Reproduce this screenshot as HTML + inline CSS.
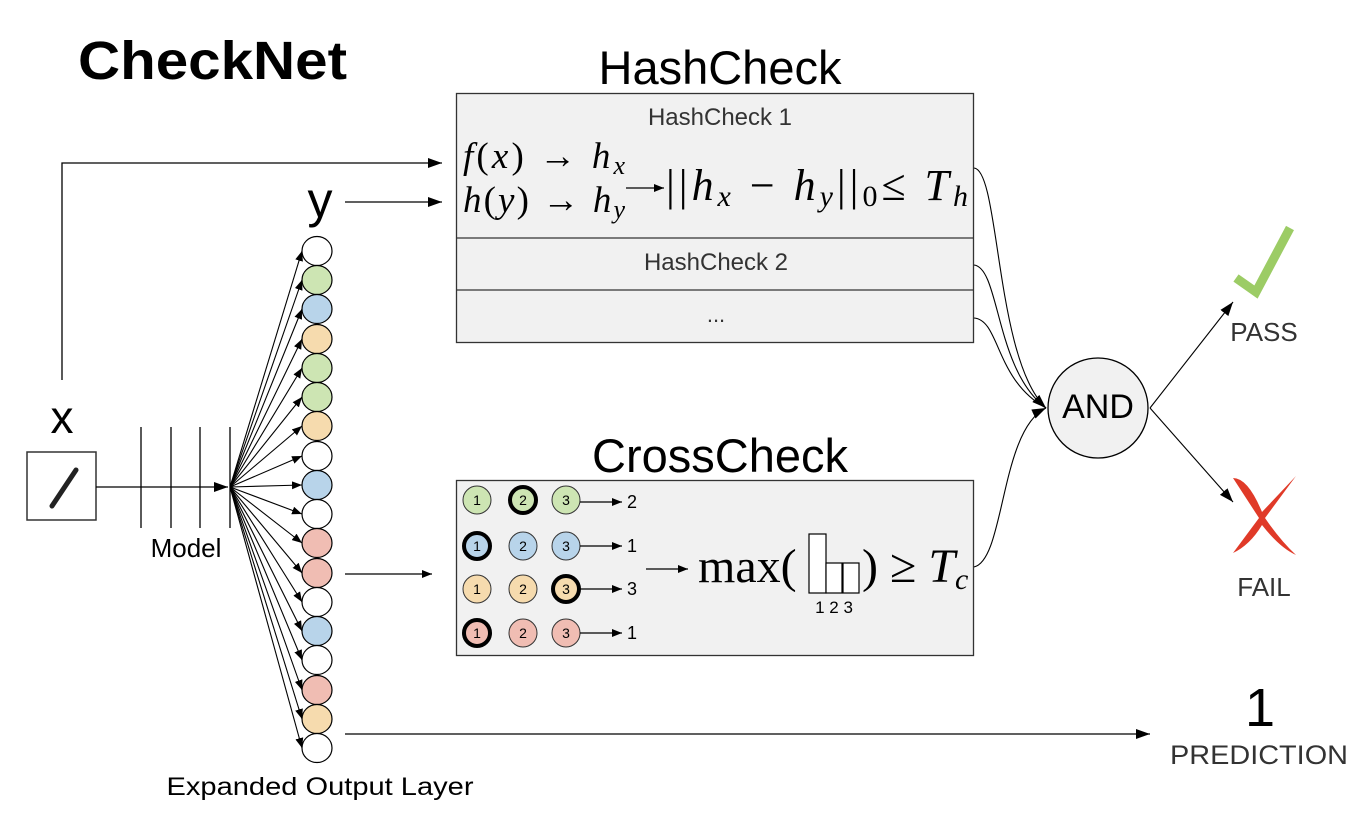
<!DOCTYPE html>
<html><head><meta charset="utf-8"><style>
body{margin:0;background:#fff;}
svg{display:block;}
.s{font-family:"Liberation Sans",sans-serif;}
.m{font-family:"Liberation Serif",serif;}
</style></head><body>
<svg width="1368" height="816" viewBox="0 0 1368 816" xmlns="http://www.w3.org/2000/svg">
<defs>
<marker id="a" markerWidth="10" markerHeight="8" refX="10" refY="4" orient="auto" markerUnits="userSpaceOnUse">
<path d="M0,0 L10,4 L0,8 z" fill="#000"/></marker>
<marker id="b" markerWidth="14" markerHeight="10" refX="14" refY="5" orient="auto" markerUnits="userSpaceOnUse">
<path d="M0,0 L14,5 L0,10 z" fill="#000"/></marker>
</defs>
<text x="78" y="79" class="s" font-size="54" font-weight="bold" textLength="269" lengthAdjust="spacingAndGlyphs">CheckNet</text>
<text x="720" y="84" class="s" font-size="47" text-anchor="middle">HashCheck</text>
<text x="720" y="472" class="s" font-size="47" text-anchor="middle">CrossCheck</text>

<!-- x input -->
<polyline points="62,380 62,163 442,163" fill="none" stroke="#000" stroke-width="1.3" marker-end="url(#b)"/>
<text x="62" y="433" class="s" font-size="46" text-anchor="middle">x</text>
<rect x="27" y="452" width="69" height="68" fill="#fff" stroke="#333" stroke-width="1.5"/>
<line x1="52" y1="506" x2="76" y2="470" stroke="#222" stroke-width="5" stroke-linecap="round"/>
<line x1="96" y1="487" x2="228" y2="487" stroke="#000" stroke-width="1.3" marker-end="url(#b)"/>
<g stroke="#000" stroke-width="1.3">
<line x1="141" y1="427" x2="141" y2="528"/><line x1="171" y1="427" x2="171" y2="528"/>
<line x1="200" y1="427" x2="200" y2="528"/><line x1="230" y1="427" x2="230" y2="528"/>
</g>
<text x="186" y="557" class="s" font-size="26" text-anchor="middle">Model</text>

<!-- y -->
<text x="320" y="217" class="s" font-size="50" text-anchor="middle">y</text>
<line x1="345" y1="202" x2="442" y2="202" stroke="#000" stroke-width="1.3" marker-end="url(#b)"/>

<!-- fan + circles -->
<g stroke="#000" stroke-width="1.1" fill="none">
<line x1="230" y1="487" x2="302" y2="251" marker-end="url(#a)"/>
<line x1="230" y1="487" x2="302" y2="280" marker-end="url(#a)"/>
<line x1="230" y1="487" x2="302" y2="309" marker-end="url(#a)"/>
<line x1="230" y1="487" x2="302" y2="339" marker-end="url(#a)"/>
<line x1="230" y1="487" x2="302" y2="368" marker-end="url(#a)"/>
<line x1="230" y1="487" x2="302" y2="397" marker-end="url(#a)"/>
<line x1="230" y1="487" x2="302" y2="426" marker-end="url(#a)"/>
<line x1="230" y1="487" x2="302" y2="456" marker-end="url(#a)"/>
<line x1="230" y1="487" x2="302" y2="485" marker-end="url(#a)"/>
<line x1="230" y1="487" x2="302" y2="514" marker-end="url(#a)"/>
<line x1="230" y1="487" x2="302" y2="543" marker-end="url(#a)"/>
<line x1="230" y1="487" x2="302" y2="573" marker-end="url(#a)"/>
<line x1="230" y1="487" x2="302" y2="602" marker-end="url(#a)"/>
<line x1="230" y1="487" x2="302" y2="631" marker-end="url(#a)"/>
<line x1="230" y1="487" x2="302" y2="660" marker-end="url(#a)"/>
<line x1="230" y1="487" x2="302" y2="690" marker-end="url(#a)"/>
<line x1="230" y1="487" x2="302" y2="719" marker-end="url(#a)"/>
<line x1="230" y1="487" x2="302" y2="748" marker-end="url(#a)"/>
</g>
<g stroke="#000" stroke-width="1.2">
<ellipse cx="317" cy="251" rx="15" ry="14.5" fill="#fff"/>
<ellipse cx="317" cy="280" rx="15" ry="14.5" fill="#cde5b3"/>
<ellipse cx="317" cy="309" rx="15" ry="14.5" fill="#b8d4ea"/>
<ellipse cx="317" cy="339" rx="15" ry="14.5" fill="#f6dbae"/>
<ellipse cx="317" cy="368" rx="15" ry="14.5" fill="#cde5b3"/>
<ellipse cx="317" cy="397" rx="15" ry="14.5" fill="#cde5b3"/>
<ellipse cx="317" cy="426" rx="15" ry="14.5" fill="#f6dbae"/>
<ellipse cx="317" cy="456" rx="15" ry="14.5" fill="#fff"/>
<ellipse cx="317" cy="485" rx="15" ry="14.5" fill="#b8d4ea"/>
<ellipse cx="317" cy="514" rx="15" ry="14.5" fill="#fff"/>
<ellipse cx="317" cy="543" rx="15" ry="14.5" fill="#f0bdb3"/>
<ellipse cx="317" cy="573" rx="15" ry="14.5" fill="#f0bdb3"/>
<ellipse cx="317" cy="602" rx="15" ry="14.5" fill="#fff"/>
<ellipse cx="317" cy="631" rx="15" ry="14.5" fill="#b8d4ea"/>
<ellipse cx="317" cy="660" rx="15" ry="14.5" fill="#fff"/>
<ellipse cx="317" cy="690" rx="15" ry="14.5" fill="#f0bdb3"/>
<ellipse cx="317" cy="719" rx="15" ry="14.5" fill="#f6dbae"/>
<ellipse cx="317" cy="748" rx="15" ry="14.5" fill="#fff"/>
</g>
<text x="320" y="795" class="s" font-size="25" text-anchor="middle" textLength="307" lengthAdjust="spacingAndGlyphs">Expanded Output Layer</text>
<line x1="345" y1="574" x2="432" y2="574" stroke="#000" stroke-width="1.3" marker-end="url(#a)"/>
<line x1="345" y1="734" x2="1150" y2="734" stroke="#000" stroke-width="1.3" marker-end="url(#b)"/>
<text x="1260" y="726" class="s" font-size="54" text-anchor="middle">1</text>
<text x="1259" y="764" class="s" font-size="27" fill="#333" text-anchor="middle" textLength="178" lengthAdjust="spacingAndGlyphs">PREDICTION</text>

<!-- HashCheck box -->
<rect x="456.5" y="93.5" width="517" height="249" fill="#f1f1f1" stroke="#333" stroke-width="1.3"/>
<line x1="456" y1="238" x2="974" y2="238" stroke="#333" stroke-width="1.3"/>
<line x1="456" y1="290" x2="974" y2="290" stroke="#333" stroke-width="1.3"/>
<text x="720" y="125" class="s" font-size="24" fill="#333" text-anchor="middle">HashCheck 1</text>
<text x="716" y="270" class="s" font-size="24" fill="#333" text-anchor="middle">HashCheck 2</text>
<text x="716" y="322" class="s" font-size="22" fill="#333" text-anchor="middle">...</text>
<text x="463" y="168" class="m" font-size="37" textLength="162" lengthAdjust="spacing"><tspan font-style="italic">f</tspan>(<tspan font-style="italic">x</tspan>) → <tspan font-style="italic">h</tspan><tspan font-style="italic" font-size="26" dy="6">x</tspan></text>
<text x="463" y="212" class="m" font-size="37" textLength="162" lengthAdjust="spacing"><tspan font-style="italic">h</tspan>(<tspan font-style="italic">y</tspan>) → <tspan font-style="italic">h</tspan><tspan font-style="italic" font-size="26" dy="6">y</tspan></text>
<line x1="626" y1="188" x2="664" y2="188" stroke="#000" stroke-width="1.3" marker-end="url(#a)"/>
<text x="666" y="200" class="m" font-size="44" textLength="302" lengthAdjust="spacing">||<tspan font-style="italic">h</tspan><tspan font-style="italic" font-size="30" dy="6">x</tspan><tspan dy="-6"> − </tspan><tspan font-style="italic">h</tspan><tspan font-style="italic" font-size="30" dy="6">y</tspan><tspan dy="-6">||</tspan><tspan font-size="30" dy="6">0</tspan><tspan dy="-6">≤ </tspan><tspan font-style="italic">T</tspan><tspan font-style="italic" font-size="30" dy="6">h</tspan></text>

<!-- CrossCheck box -->
<rect x="456.5" y="480.5" width="517" height="175" fill="#f1f1f1" stroke="#333" stroke-width="1.3"/>
<g class="s" font-size="14" text-anchor="middle">
<g stroke="#333" stroke-width="1">
<circle cx="477" cy="500" r="14" fill="#cde5b3"/><circle cx="523" cy="500" r="13" fill="#cde5b3" stroke="#000" stroke-width="4"/><circle cx="566" cy="500" r="14" fill="#cde5b3"/>
<circle cx="477" cy="546" r="13" fill="#b8d4ea" stroke="#000" stroke-width="4"/><circle cx="523" cy="546" r="14" fill="#b8d4ea"/><circle cx="566" cy="546" r="14" fill="#b8d4ea"/>
<circle cx="477" cy="589" r="14" fill="#f6dbae"/><circle cx="523" cy="589" r="14" fill="#f6dbae"/><circle cx="566" cy="589" r="13" fill="#f6dbae" stroke="#000" stroke-width="4"/>
<circle cx="477" cy="633" r="13" fill="#f0bdb3" stroke="#000" stroke-width="4"/><circle cx="523" cy="633" r="14" fill="#f0bdb3"/><circle cx="566" cy="633" r="14" fill="#f0bdb3"/>
</g>
<text x="477" y="505">1</text><text x="523" y="505">2</text><text x="566" y="505">3</text>
<text x="477" y="551">1</text><text x="523" y="551">2</text><text x="566" y="551">3</text>
<text x="477" y="594">1</text><text x="523" y="594">2</text><text x="566" y="594">3</text>
<text x="477" y="638">1</text><text x="523" y="638">2</text><text x="566" y="638">3</text>
</g>
<g stroke="#000" stroke-width="1.2">
<line x1="580" y1="502" x2="622" y2="502" marker-end="url(#a)"/>
<line x1="580" y1="546" x2="622" y2="546" marker-end="url(#a)"/>
<line x1="580" y1="589" x2="622" y2="589" marker-end="url(#a)"/>
<line x1="580" y1="633" x2="622" y2="633" marker-end="url(#a)"/>
<line x1="646" y1="569" x2="688" y2="569" marker-end="url(#a)"/>
</g>
<g class="s" font-size="18"><text x="627" y="508">2</text><text x="627" y="552">1</text><text x="627" y="595">3</text><text x="627" y="639">1</text></g>
<text x="698" y="582" class="m" font-size="48">max(</text>
<g fill="#fff" stroke="#000" stroke-width="1.2">
<rect x="809" y="534" width="17" height="59"/><rect x="826" y="563" width="16" height="30"/><rect x="843" y="563" width="16" height="30"/>
</g>
<text x="834" y="613" class="s" font-size="17" text-anchor="middle">1 2 3</text>
<text x="862" y="582" class="m" font-size="48">) ≥ <tspan font-style="italic">T</tspan><tspan font-style="italic" font-size="30" dy="7">c</tspan></text>

<!-- to AND -->
<g fill="none" stroke="#000" stroke-width="1.1">
<path d="M974,168 C1000,170 995,360 1046,408" marker-end="url(#b)"/>
<path d="M974,265 C1000,268 995,370 1046,408"/>
<path d="M974,318 C1000,320 995,380 1046,408"/>
<path d="M974,567 C1005,560 1000,430 1046,408" marker-end="url(#b)"/>
<line x1="1150" y1="408" x2="1233" y2="302" marker-end="url(#b)"/>
<line x1="1150" y1="408" x2="1233" y2="502" marker-end="url(#b)"/>
</g>
<circle cx="1098" cy="408" r="50" fill="#f1f1f1" stroke="#000" stroke-width="1.3"/>
<text x="1098" y="418" class="s" font-size="34" text-anchor="middle">AND</text>
<polyline points="1236,278 1256,292 1290,228" fill="none" stroke="#9ccc65" stroke-width="9"/>
<text x="1264" y="341" class="s" font-size="26" fill="#333" text-anchor="middle">PASS</text>
<path d="M1233,478 Q1248,478 1262,512 L1296,476 L1265,518 Q1280,540 1296,555 Q1280,548 1262,525 Q1250,545 1233,553 L1259,518 Z" fill="#e03a28"/>
<text x="1264" y="596" class="s" font-size="26" fill="#333" text-anchor="middle">FAIL</text>
</svg>
</body></html>
